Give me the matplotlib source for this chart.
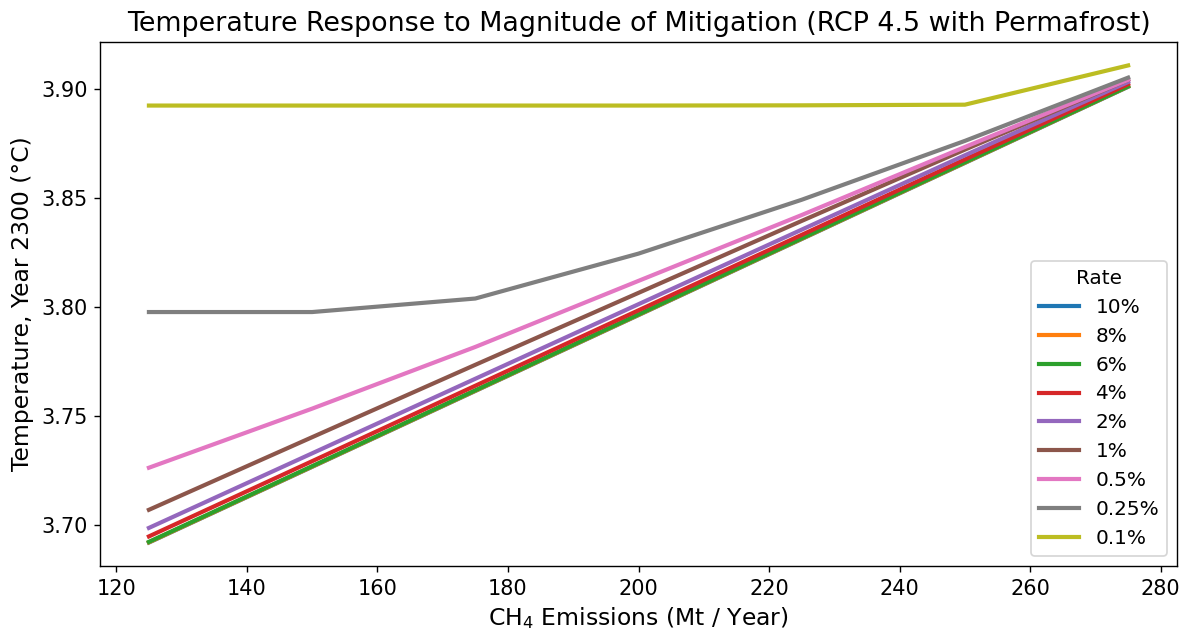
import numpy as np
import matplotlib
matplotlib.use('Agg')
import matplotlib.pyplot as plt

emissions = [125, 150, 175, 200, 225, 250, 275]  # CH4 emissions (Mt/yr)

rates = ['10%', '8%', '6%', '4%', '2%', '1%', '0.5%', '0.25%', '0.1%']

t_10 = [3.6918, 3.7265, 3.7613, 3.7961, 3.8310, 3.8659, 3.9008]
t_8 = [3.6919, 3.7266, 3.7614, 3.7962, 3.8311, 3.8660, 3.9009]
t_6 = [3.6921, 3.7268, 3.7616, 3.7964, 3.8313, 3.8662, 3.9010]
t_4 = [3.6946, 3.7291, 3.7637, 3.7983, 3.8329, 3.8675, 3.9020]
t_2 = [3.6985, 3.7327, 3.7669, 3.8011, 3.8353, 3.8694, 3.9030]
t_1 = [3.7068, 3.7401, 3.7733, 3.8063, 3.8393, 3.8720, 3.9040]
t_05 = [3.7261, 3.7532, 3.7815, 3.8118, 3.8420, 3.8732, 3.9040]
t_025 = [3.7975, 3.7975, 3.8037, 3.8243, 3.8490, 3.8760, 3.9050]
t_01 = [3.8922, 3.8922, 3.8922, 3.8922, 3.8923, 3.8926, 3.9106]

temps = [t_10, t_8, t_6, t_4, t_2, t_1, t_05, t_025, t_01]

fig = plt.figure(figsize=(9.464, 5.04), dpi=125)
ax = fig.add_axes([0.0845, 0.101, 0.9105, 0.833])

for r, t in zip(rates, temps):
    ax.plot(emissions, t, lw=2.4, label=r)

ax.set_title('Temperature Response to Magnitude of Mitigation (RCP 4.5 with Permafrost)', fontsize=15.5)
ax.set_xlabel(r'CH$_4$ Emissions (Mt / Year)', fontsize=13.5)
ax.set_ylabel('Temperature, Year 2300 (°C)', fontsize=13.5)
ax.tick_params(labelsize=12)
leg = ax.legend(title='Rate', loc='lower right', fontsize=11.5, title_fontsize=11.5)

fig.savefig('out.png', dpi=125)
